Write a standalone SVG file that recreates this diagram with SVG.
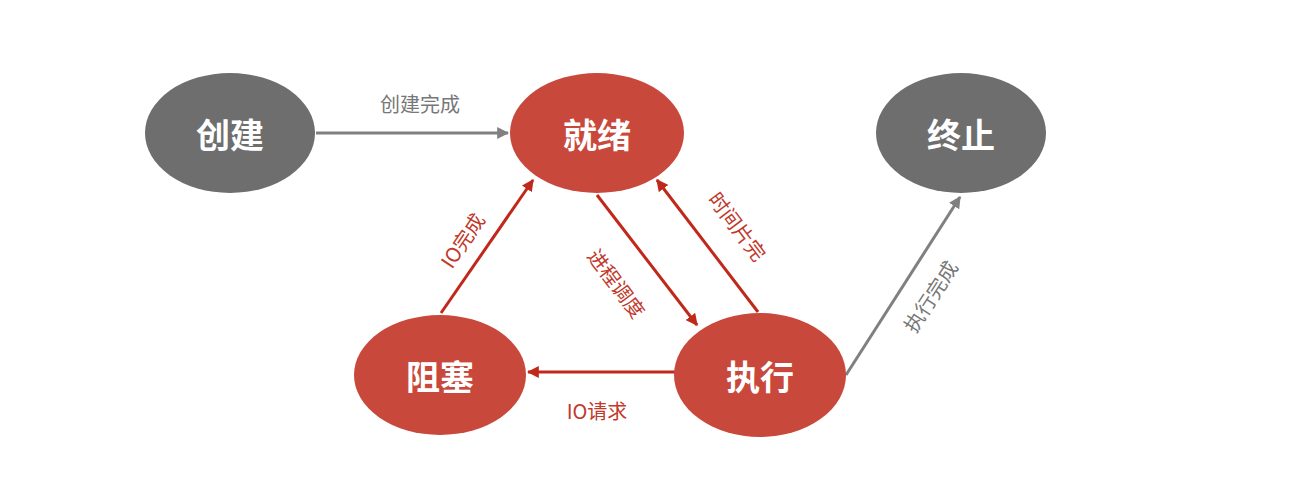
<svg xmlns="http://www.w3.org/2000/svg" width="1290" height="482" viewBox="0 0 1290 482">
<style>
.g{fill:#6e6e6e}.r{fill:#c9483c}
.nt{font-family:"Noto Sans CJK SC","Liberation Sans",sans-serif;font-size:34px;font-weight:bold;fill:#fff;text-anchor:middle;dominant-baseline:central}
.lt{font-family:"Noto Sans CJK SC","Liberation Sans",sans-serif;font-size:20px;text-anchor:middle;dominant-baseline:central}
.lr{fill:#c0392b}.lg{fill:#777}
.cr{stroke:#c0281a;stroke-width:3;fill:none;marker-end:url(#ar)}
.cg{stroke:#808080;stroke-width:3;fill:none;marker-end:url(#ag)}
</style>
<defs>
<marker id="ar" viewBox="0 0 10 10" refX="9" refY="5" markerWidth="4" markerHeight="4" orient="auto"><path d="M0,0L10,5L0,10z" fill="#c0281a"/></marker>
<marker id="ag" viewBox="0 0 10 10" refX="9" refY="5" markerWidth="4" markerHeight="4" orient="auto"><path d="M0,0L10,5L0,10z" fill="#808080"/></marker>
</defs>
<rect width="1290" height="482" fill="#fff"/>
<g id="connectors">
<line class="cg" x1="316" y1="133" x2="508" y2="133"/>
<text class="lt lg" x="420" y="103">创建完成</text>
<line class="cr" x1="441" y1="313" x2="533" y2="180"/>
<text class="lt lr" transform="translate(462,240) rotate(-56)" x="0" y="0">IO完成</text>
<line class="cr" x1="597" y1="195" x2="697" y2="325"/>
<text class="lt lr" transform="translate(617,283) rotate(53)" x="0" y="0">进程调度</text>
<line class="cr" x1="758" y1="312" x2="657" y2="180"/>
<text class="lt lr" transform="translate(738,226) rotate(53)" x="0" y="0">时间片完</text>
<line class="cr" x1="675" y1="372" x2="528" y2="372"/>
<text class="lt lr" x="597" y="410">IO请求</text>
<line class="cg" x1="846" y1="375" x2="960" y2="197"/>
<text class="lt lg" transform="translate(930,296) rotate(-57)" x="0" y="0">执行完成</text>
</g>
<g id="n1"><ellipse class="g" cx="230" cy="133" rx="85" ry="60"/><text class="nt" x="230" y="133">创建</text></g>
<g id="n2"><ellipse class="r" cx="597" cy="133" rx="87" ry="60"/><text class="nt" x="597" y="133">就绪</text></g>
<g id="n3"><ellipse class="g" cx="961" cy="133" rx="85" ry="60"/><text class="nt" x="961" y="133">终止</text></g>
<g id="n4"><ellipse class="r" cx="440" cy="375" rx="86" ry="60"/><text class="nt" x="440" y="375">阻塞</text></g>
<g id="n5"><ellipse class="r" cx="760" cy="375" rx="86" ry="62"/><text class="nt" x="760" y="375">执行</text></g>
</svg>
